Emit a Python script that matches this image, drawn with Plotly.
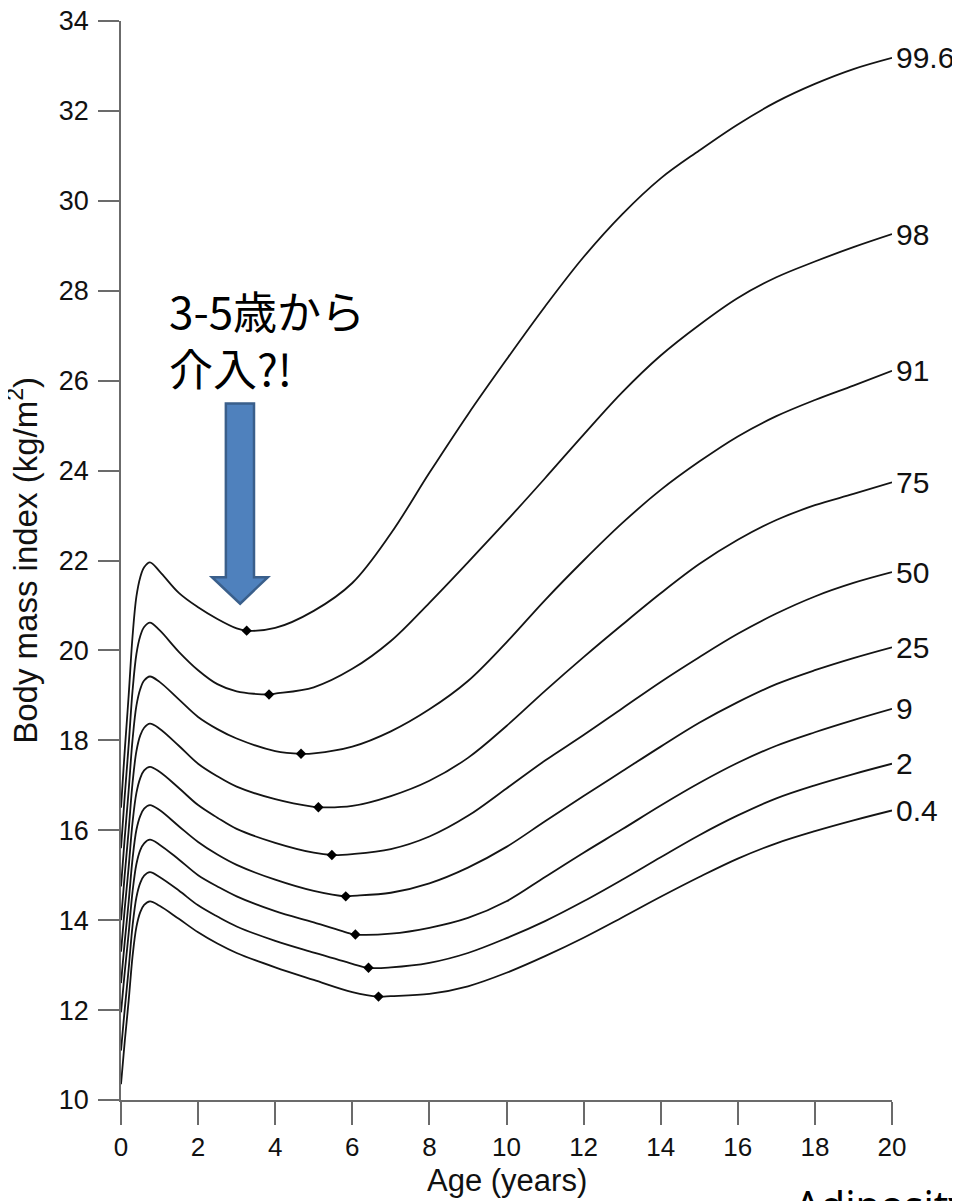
import plotly.graph_objects as go

# ---------------- data ----------------
AGES = [0, 0.05, 0.1, 0.2, 0.3, 0.4, 0.5, 0.6, 0.75, 1, 1.5, 2, 2.5, 3, 4, 5,
        6, 7, 8, 9, 10, 11, 12, 13, 14, 15, 16, 17, 18, 19, 20]

P99_6 = [16.5, 17.16, 17.81, 19.01, 20.32, 21.20, 21.63, 21.85, 21.96, 21.76, 21.28,
         20.96, 20.70, 20.49, 20.50, 20.88, 21.50, 22.60, 23.95, 25.25, 26.47, 27.65,
         28.75, 29.70, 30.50, 31.12, 31.70, 32.20, 32.60, 32.93, 33.18]
P98 = [15.6, 16.20, 16.80, 17.91, 19.11, 19.92, 20.32, 20.52, 20.62, 20.45, 19.97,
       19.56, 19.25, 19.09, 19.04, 19.18, 19.59, 20.21, 21.06, 21.96, 22.88, 23.83,
       24.80, 25.74, 26.56, 27.24, 27.84, 28.30, 28.65, 28.97, 29.26]
P91 = [14.75, 15.31, 15.87, 16.90, 18.02, 18.77, 19.14, 19.33, 19.42, 19.30, 18.91,
       18.52, 18.25, 18.04, 17.76, 17.71, 17.86, 18.20, 18.69, 19.32, 20.18, 21.12,
       22.00, 22.83, 23.57, 24.20, 24.76, 25.21, 25.57, 25.89, 26.22]
P75 = [14.0, 14.52, 15.05, 16.01, 17.06, 17.76, 18.11, 18.28, 18.37, 18.26, 17.88,
       17.48, 17.20, 16.97, 16.69, 16.52, 16.54, 16.76, 17.10, 17.61, 18.32, 19.10,
       19.85, 20.57, 21.27, 21.92, 22.46, 22.90, 23.23, 23.48, 23.74]
P50 = [13.3, 13.79, 14.29, 15.19, 16.18, 16.83, 17.16, 17.33, 17.41, 17.30, 16.94,
       16.56, 16.28, 16.03, 15.72, 15.50, 15.47, 15.58, 15.86, 16.32, 16.93, 17.55,
       18.12, 18.71, 19.30, 19.85, 20.37, 20.82, 21.20, 21.50, 21.74]
P25 = [12.6, 13.08, 13.55, 14.42, 15.37, 16.01, 16.32, 16.48, 16.56, 16.45, 16.09,
       15.74, 15.46, 15.23, 14.90, 14.65, 14.54, 14.61, 14.82, 15.17, 15.63, 16.20,
       16.76, 17.31, 17.86, 18.39, 18.85, 19.25, 19.56, 19.83, 20.07]
P9 = [11.95, 12.41, 12.87, 13.72, 14.64, 15.25, 15.56, 15.71, 15.79, 15.68, 15.35,
      15.00, 14.75, 14.53, 14.20, 13.95, 13.69, 13.70, 13.83, 14.05, 14.42, 14.96,
      15.50, 16.02, 16.55, 17.05, 17.50, 17.88, 18.18, 18.45, 18.70]
P2 = [11.1, 11.58, 12.05, 12.93, 13.88, 14.51, 14.83, 14.99, 15.07, 14.96, 14.66,
      14.33, 14.08, 13.86, 13.54, 13.28, 13.03, 12.95, 13.05, 13.27, 13.60, 13.98,
      14.42, 14.90, 15.40, 15.89, 16.33, 16.71, 17.00, 17.25, 17.48]
P0_4 = [10.35, 10.84, 11.33, 12.22, 13.20, 13.85, 14.18, 14.34, 14.42, 14.32, 14.03,
        13.73, 13.48, 13.27, 12.95, 12.67, 12.40, 12.31, 12.36, 12.53, 12.83, 13.20,
        13.61, 14.06, 14.52, 14.96, 15.37, 15.71, 15.98, 16.22, 16.44]

CENTILE_LABELS = ["99.6", "98", "91", "75", "50", "25", "9", "2", "0.4"]

# adiposity-rebound points (diamonds)
MIN_AGE = [3.26, 3.84, 4.67, 5.12, 5.47, 5.83, 6.08, 6.42, 6.68]
MIN_BMI = [20.44, 19.02, 17.70, 16.51, 15.45, 14.53, 13.68, 12.94, 12.30]

X_TICKS = list(range(0, 21, 2))
Y_TICKS = list(range(10, 35, 2))

NOTE_TEXT = "3-5歳から<br>介入?!"
CORNER_TEXT = "Adiposity"

CURVES = [P99_6, P98, P91, P75, P50, P25, P9, P2, P0_4]

# ---------------- figure ----------------
AXIS_GREY = "#6b6b6b"
LINE_BLACK = "#141414"
LATIN = "Liberation Sans, Arial, sans-serif"
CJK = "Noto Sans CJK JP, sans-serif"

fig = go.Figure()

for vals, mage, mbmi in zip(CURVES, MIN_AGE, MIN_BMI):
    pts = sorted(list(zip(AGES, vals)) + [(mage, mbmi)])
    fig.add_trace(go.Scatter(
        x=[p[0] for p in pts], y=[p[1] for p in pts], mode="lines",
        line=dict(color=LINE_BLACK, width=1.8, shape="spline", smoothing=1.0),
        hoverinfo="skip", showlegend=False))

fig.add_trace(go.Scatter(
    x=MIN_AGE, y=MIN_BMI, mode="markers",
    marker=dict(symbol="diamond", size=8, color="black"),
    hoverinfo="skip", showlegend=False))

annotations = []
# percentile labels at the right end of each curve
for vals, lab in zip(CURVES, CENTILE_LABELS):
    annotations.append(dict(
        x=AGES[-1], y=vals[-1], xref="x", yref="y", text=lab, showarrow=False,
        xanchor="left", yanchor="middle", xshift=2,
        font=dict(family=LATIN, size=30, color="#111111")))

# axis titles
annotations.append(dict(
    x=0.5, y=-0.075, xref="paper", yref="paper", text="Age (years)",
    showarrow=False, xanchor="center", yanchor="middle",
    font=dict(family=LATIN, size=31, color="#111111")))
annotations.append(dict(
    x=-0.128, y=0.5, xref="paper", yref="paper",
    text="Body mass index (kg/m<sup>2</sup>)", textangle=-90,
    showarrow=False, xanchor="center", yanchor="middle",
    font=dict(family=LATIN, size=33, color="#111111")))

# Japanese note (two lines)
annotations.append(dict(
    x=1.19, y=26.93, xref="x", yref="y", text=NOTE_TEXT, showarrow=False,
    xanchor="left", yanchor="middle", align="left",
    font=dict(family=CJK, size=44, color="#000000")))

# partly visible text at the bottom right
annotations.append(dict(
    x=0.872, y=-0.0692, xref="paper", yref="paper", text=CORNER_TEXT,
    showarrow=False, xanchor="left", yanchor="top",
    font=dict(family="Noto Sans, sans-serif", size=40, color="#000000")))

# blue block arrow (age / BMI coordinates)
ARROW_PATH = ("M 2.72,25.49 L 3.45,25.49 L 3.45,21.63 L 3.81,21.63 "
              "L 3.09,21.04 L 2.36,21.63 L 2.72,21.63 Z")
shapes = [dict(type="path", xref="x", yref="y", path=ARROW_PATH,
               fillcolor="#4F81BD", line=dict(color="#3A5F8B", width=2.5),
               layer="above")]

# the page body has an 8px margin, so the figure is sized/offset to compensate
fig.update_layout(
    width=952, height=1193,
    margin=dict(l=113, r=68, t=13, b=101, autoexpand=False),
    paper_bgcolor="white", plot_bgcolor="white",
    showlegend=False,
    annotations=annotations, shapes=shapes,
    xaxis=dict(range=[0, 20], tickvals=X_TICKS, showgrid=False, zeroline=False,
               showline=True, linecolor=AXIS_GREY, linewidth=1.5,
               ticks="outside", ticklen=23, tickwidth=1.5, tickcolor=AXIS_GREY,
               tickfont=dict(family=LATIN, size=26, color="#111111"),
               ticklabeloverflow="allow",
               automargin=False, layer="below traces"),
    yaxis=dict(range=[10, 34], tickvals=Y_TICKS, showgrid=False, zeroline=False,
               showline=True, linecolor=AXIS_GREY, linewidth=1.5,
               ticks="outside", ticklen=21, tickwidth=1.5, tickcolor=AXIS_GREY,
               tickfont=dict(family=LATIN, size=27, color="#111111"),
               ticklabeloverflow="allow", ticklabelstandoff=4,
               automargin=False, layer="below traces"),
)

fig.write_html("out.html")
